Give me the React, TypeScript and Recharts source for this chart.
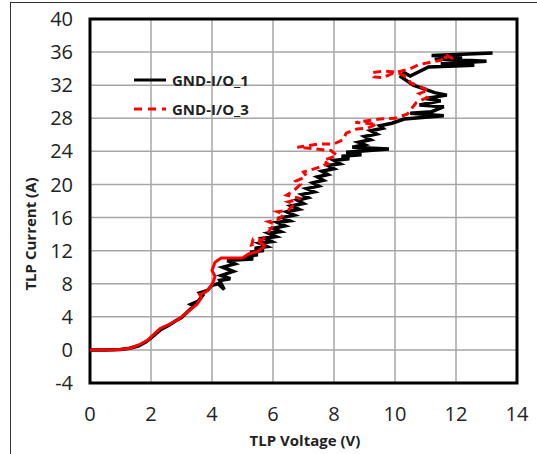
import { LineChart, Line, XAxis, YAxis, CartesianGrid, ReferenceArea } from 'recharts';

// TLP sweep: voltage (V) and current (A) per pulse
const io1V = [0, 0.5, 1.0, 1.3, 1.6, 1.85, 2.05, 2.3, 2.6, 2.8, 3.0, 3.2, 3.4, 3.3, 3.55, 3.7, 3.6, 3.85, 4.0, 4.2, 4.4, 4.25, 4.6, 4.3, 4.7, 4.35, 4.75, 4.5, 4.9, 5.35, 5.1, 5.5, 5.25, 5.7, 5.4, 5.8, 5.55, 5.95, 5.7, 6.1, 5.85, 6.25, 6.0, 6.4, 6.15, 6.55, 6.3, 6.7, 6.45, 6.85, 6.6, 7.0, 6.8, 7.15, 6.95, 7.35, 7.1, 7.5, 7.3, 7.65, 7.45, 7.8, 7.6, 8.0, 7.8, 8.2, 8.0, 8.5, 8.25, 8.9, 8.4, 9.8, 8.6, 9.0, 8.8, 9.2, 9.0, 9.4, 9.2, 9.6, 9.5, 9.9, 10.3, 11.6, 10.5, 11.2, 11.6, 10.8, 11.5, 11.0, 11.7, 11.3, 10.6, 10.2, 10.3, 10.5, 11.1, 12.6, 11.5, 13.0, 11.3, 12.2, 11.2, 13.2];
const io1I = [0, 0, 0.05, 0.2, 0.5, 1.0, 1.6, 2.4, 3.0, 3.5, 3.9, 4.6, 5.3, 5.5, 5.9, 6.6, 6.9, 7.2, 7.8, 8.0, 7.3, 8.4, 8.6, 9.0, 9.5, 10.0, 10.4, 10.8, 10.9, 11.0, 11.3, 11.5, 11.8, 12.0, 12.3, 12.5, 12.9, 13.1, 13.5, 13.7, 14.1, 14.3, 14.7, 15.0, 15.4, 15.6, 16.0, 16.3, 16.7, 17.0, 17.4, 17.7, 18.1, 18.4, 18.8, 19.1, 19.5, 19.8, 20.2, 20.5, 20.9, 21.2, 21.6, 21.9, 22.3, 22.5, 22.9, 23.1, 23.4, 23.6, 23.9, 24.3, 24.5, 24.8, 25.1, 25.4, 25.8, 26.1, 26.5, 26.8, 27.1, 27.4, 27.9, 28.3, 28.6, 28.8, 29.4, 29.6, 30.1, 30.4, 30.8, 31.1, 32.0, 33.0, 33.5, 33.1, 34.2, 34.4, 34.6, 34.9, 35.2, 35.3, 35.6, 35.9];

const io3V = [0, 0.5, 1.0, 1.3, 1.6, 1.9, 2.1, 2.3, 2.6, 2.9, 3.1, 3.3, 3.5, 3.65, 3.6, 3.8, 3.95, 4.05, 4.1, 4.0, 4.1, 4.3, 4.7, 5.0, 5.2, 5.5, 5.75, 5.55, 5.3, 5.35, 5.65, 5.9, 6.05, 5.85, 6.2, 6.35, 6.15, 6.5, 6.7, 6.5, 6.9, 6.45, 6.7, 6.9, 6.75, 7.1, 7.0, 7.45, 7.8, 7.65, 8.1, 7.9, 6.8, 7.5, 8.0, 8.3, 8.4, 8.75, 9.1, 9.4, 8.7, 9.5, 10.0, 10.4, 10.7, 11.05, 10.8, 11.1, 10.5, 10.4, 10.0, 9.6, 9.25, 9.3, 9.6, 9.9, 10.5, 10.8, 11.2, 11.5, 11.7, 11.9, 11.6];
const io3I = [0, 0, 0.05, 0.2, 0.6, 1.2, 1.9, 2.6, 3.1, 3.7, 4.3, 4.9, 5.5, 6.3, 6.7, 7.0, 7.6, 8.3, 8.9, 9.6, 10.6, 11.1, 11.1, 11.1, 11.6, 11.9, 12.6, 13.0, 12.7, 13.4, 13.3, 14.5, 15.2, 15.5, 15.8, 16.4, 16.7, 16.9, 17.6, 17.9, 18.3, 18.7, 19.3, 20.0, 20.4, 21.0, 21.5, 22.0, 22.5, 22.9, 23.5, 24.1, 24.5, 24.9, 24.9, 25.4, 26.2, 26.7, 26.8, 27.3, 27.5, 27.9, 28.0, 28.5, 29.9, 30.5, 31.0, 31.4, 32.3, 33.0, 33.6, 33.7, 33.5, 33.0, 32.9, 33.4, 34.0, 34.5, 34.8, 35.0, 35.6, 35.2, 35.4];

const xTicks = [0, 2, 4, 6, 8, 10, 12, 14];
const yTicks = [-4, 0, 4, 8, 12, 16, 20, 24, 28, 32, 36, 40];

const io1 = io1V.map((v, i) => ({ v, a: io1I[i] }));
const io3 = io3V.map((v, i) => ({ v, a: io3I[i] }));
// the low part of the _3 trace prints as a solid line, the rest dashed
const split = io3I.findIndex((a) => a >= 12);
const io3Low = io3.slice(0, split + 1);
const io3High = io3.slice(split);

const font = '"Open Sans", "DejaVu Sans", sans-serif';

function LegendBox() {
  const row = (label: string, color: string, dash?: string) => (
    <div style={{ display: 'flex', alignItems: 'center', height: 29 }}>
      <svg width={36} height={8}>
        <line x1={1} y1={4} x2={33} y2={4} stroke={color} strokeWidth={3} strokeDasharray={dash} />
      </svg>
      <span style={{ fontSize: 15, fontWeight: 700, color: '#222', marginLeft: 3 }}>{label}</span>
    </div>
  );
  return (
    <div style={{ position: 'absolute', left: 133, top: 65, fontFamily: font }}>
      {row('GND-I/O_1', '#000')}
      {row('GND-I/O_3', '#ff0000', '8 6')}
    </div>
  );
}

export default function App() {
  return (
    <div style={{ position: 'absolute', left: 0, top: 0, width: 537, height: 454, background: '#fff' }}>
      <div
        style={{
          position: 'absolute',
          left: 10,
          top: 2,
          width: 540,
          height: 460,
          borderTop: '1.5px solid #333',
          borderLeft: '1.5px solid #333',
        }}
      />
      <LineChart width={537} height={454} margin={{ top: 19, right: 20, bottom: 0, left: 0 }}>
        <CartesianGrid stroke="#a6a6a6" strokeWidth={1.5} />
        <XAxis
          type="number"
          dataKey="v"
          domain={[0, 14]}
          ticks={xTicks}
          interval={0}
          axisLine={false}
          tickLine={false}
          tickMargin={18}
          height={71}
          tick={{ fontSize: 20, fill: '#222', fontFamily: font }}
          label={{
            content: () => (
              <text x={305} y={446} textAnchor="middle" fontSize={15} fontWeight={700} fill="#222" fontFamily={font}>
                TLP Voltage (V)
              </text>
            ),
          }}
        />
        <YAxis
          type="number"
          dataKey="a"
          domain={[-4, 40]}
          ticks={yTicks}
          interval={0}
          axisLine={false}
          tickLine={false}
          tickMargin={11}
          width={90}
          tick={{ fontSize: 20, fill: '#222', fontFamily: font }}
          label={{
            content: () => (
              <text
                x={36}
                y={234}
                transform="rotate(-90 36 234)"
                textAnchor="middle"
                fontSize={15}
                fontWeight={700}
                fill="#222"
                fontFamily={font}
              >
                TLP Current (A)
              </text>
            ),
          }}
        />
        <ReferenceArea x1={0} x2={14} y1={-4} y2={40} fill="none" stroke="#000" strokeWidth={3} ifOverflow="visible" />
        <Line data={io1} dataKey="a" stroke="#000" strokeWidth={3.5} dot={false} isAnimationActive={false} />
        <Line data={io3Low} dataKey="a" stroke="#ff0000" strokeWidth={3} dot={false} isAnimationActive={false} />
        <Line
          data={io3High}
          dataKey="a"
          stroke="#ff0000"
          strokeWidth={3}
          strokeDasharray="8 5"
          dot={false}
          isAnimationActive={false}
        />
      </LineChart>
      <LegendBox />
    </div>
  );
}
